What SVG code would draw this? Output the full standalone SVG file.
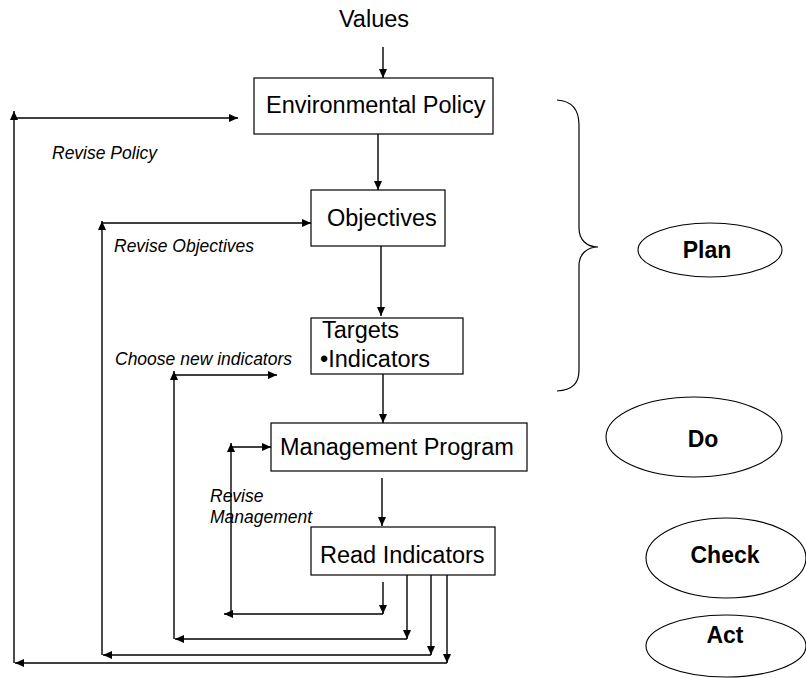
<svg xmlns="http://www.w3.org/2000/svg" width="806" height="678" viewBox="0 0 806 678">
<style>
.bg{fill:#fff}
.box{fill:#fff;stroke:#000;stroke-width:1.2}
.ell{fill:#fff;stroke:#000;stroke-width:1.1}
.t{font-family:"Liberation Sans",Arial,sans-serif;font-size:23.5px;fill:#000}
.it{font-family:"Liberation Sans",Arial,sans-serif;font-size:17.5px;font-style:italic;fill:#000}
.b{font-family:"Liberation Sans",Arial,sans-serif;font-size:23px;font-weight:bold;fill:#000;text-anchor:middle}
.c{fill:none;stroke:#000;stroke-width:1.4}
.brace{fill:none;stroke:#000;stroke-width:1.2}
</style>
<defs>
<marker id="ah" markerUnits="userSpaceOnUse" markerWidth="10" markerHeight="8" refX="9" refY="4" orient="auto">
<path d="M0,0 L9,4 L0,8 z" fill="#000"/>
</marker>
</defs>
<rect class="bg" x="0" y="0" width="806" height="678"/>
<g id="values"><text class="t" x="374" y="27" text-anchor="middle">Values</text></g>
<g id="env-policy"><rect class="box" x="254" y="78" width="239" height="56"/><text class="t" x="266" y="113">Environmental Policy</text></g>
<g id="objectives"><rect class="box" x="311" y="190" width="134" height="56"/><text class="t" x="327" y="226">Objectives</text></g>
<g id="targets"><rect class="box" x="311" y="318" width="152" height="56"/><text class="t" x="322" y="338">Targets</text><text class="t" x="320" y="367">•Indicators</text></g>
<g id="mgmt-program"><rect class="box" x="271" y="423" width="256" height="48"/><text class="t" x="280" y="455">Management Program</text></g>
<g id="read-indicators"><rect class="box" x="311" y="527" width="184" height="48"/><text class="t" x="320" y="563">Read Indicators</text></g>
<g id="brace"><path class="brace" d="M557,100 C572,101 579,110 579,125 L579,228 C579,240 587,247 598,247 C587,247 579,254 579,266 L579,370 C579,384 572,390 557,391"/></g>
<g id="plan"><ellipse class="ell" cx="710" cy="250" rx="72" ry="27"/><text class="b" x="707" y="258">Plan</text></g>
<g id="do"><ellipse class="ell" cx="694" cy="437" rx="88" ry="40"/><text class="b" x="703" y="447">Do</text></g>
<g id="check"><ellipse class="ell" cx="726" cy="558" rx="80" ry="40"/><text class="b" x="725" y="563">Check</text></g>
<g id="act"><ellipse class="ell" cx="726" cy="646" rx="80" ry="31"/><text class="b" x="725" y="643">Act</text></g>
<g id="labels">
<text class="it" x="52" y="159">Revise Policy</text>
<text class="it" x="114" y="252">Revise Objectives</text>
<text class="it" x="115" y="365">Choose new indicators</text>
<text class="it" x="210" y="502">Revise</text>
<text class="it" x="210" y="523">Management</text>
</g>
<g id="connectors">
<line class="c" x1="383" y1="47" x2="383" y2="78" marker-end="url(#ah)"/>
<line class="c" x1="378" y1="134" x2="378" y2="190" marker-end="url(#ah)"/>
<line class="c" x1="381" y1="246" x2="381" y2="316" marker-end="url(#ah)"/>
<line class="c" x1="383" y1="374" x2="383" y2="423" marker-end="url(#ah)"/>
<line class="c" x1="382" y1="478" x2="382" y2="526" marker-end="url(#ah)"/>
<line class="c" x1="14" y1="663" x2="14" y2="111" marker-end="url(#ah)"/>
<line class="c" x1="14" y1="118" x2="238" y2="118" marker-end="url(#ah)"/>
<line class="c" x1="102" y1="655" x2="102" y2="221" marker-end="url(#ah)"/>
<line class="c" x1="102" y1="223" x2="311" y2="223" marker-end="url(#ah)"/>
<line class="c" x1="174" y1="639" x2="174" y2="371" marker-end="url(#ah)"/>
<line class="c" x1="174" y1="375" x2="277" y2="375" marker-end="url(#ah)"/>
<line class="c" x1="231" y1="614" x2="231" y2="443" marker-end="url(#ah)"/>
<line class="c" x1="231" y1="447" x2="271" y2="447" marker-end="url(#ah)"/>
<line class="c" x1="383" y1="582" x2="383" y2="614" marker-end="url(#ah)"/>
<line class="c" x1="383" y1="614" x2="224" y2="614" marker-end="url(#ah)"/>
<line class="c" x1="407" y1="575" x2="407" y2="639" marker-end="url(#ah)"/>
<line class="c" x1="407" y1="639" x2="175" y2="639" marker-end="url(#ah)"/>
<line class="c" x1="431" y1="575" x2="431" y2="655" marker-end="url(#ah)"/>
<line class="c" x1="431" y1="655" x2="103" y2="655" marker-end="url(#ah)"/>
<line class="c" x1="447" y1="575" x2="447" y2="663" marker-end="url(#ah)"/>
<line class="c" x1="447" y1="663" x2="15" y2="663" marker-end="url(#ah)"/>
</g>
</svg>
